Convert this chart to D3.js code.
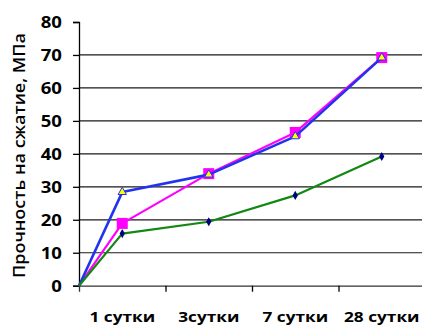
<!DOCTYPE html>
<html>
<head>
<meta charset="utf-8">
<script src="https://cdn.jsdelivr.net/npm/d3@7"></script>
<style>
  html, body { margin: 0; padding: 0; background: #fff; }
  svg { display: block; }
  text { font-family: "Open Sans", "DejaVu Sans", sans-serif; fill: #000; }
</style>
</head>
<body>
<svg id="chart" width="422" height="326"></svg>
<script>
// Curing age categories (the first point of every series is the origin)
const ages = ["1 сутки", "3сутки", "7 сутки", "28 сутки"];
// Compressive strength, MPa: value at origin followed by one value per age
const strengthBlue    = [0, 28.4, 33.7, 45.3, 69.2];
const strengthMagenta = [0, 18.9, 34.0, 46.5, 69.2];
const strengthGreen   = [0, 15.8, 19.4, 27.4, 39.2];
const yTicks = [0, 10, 20, 30, 40, 50, 60, 70, 80];
const yTitle = "Прочность на сжатие, МПа";

const svg = d3.select("#chart");
const plotLeft = 79, plotRight = 425, plotTop = 22, plotBottom = 285.7;

// x: 0 is the value axis, category k is centred at k + 0.5
const x = d3.scaleLinear().domain([0, ages.length]).range([plotLeft, plotRight]);
const y = d3.scaleLinear().domain([0, 80]).range([plotBottom, plotTop]);
const xPos = i => i === 0 ? x(0) : x(i - 0.5);

// horizontal gridlines
svg.append("g")
  .selectAll("line")
  .data(yTicks.filter(t => t > 0 && t < 80))
  .join("line")
  .attr("x1", plotLeft).attr("x2", plotRight)
  .attr("y1", d => y(d)).attr("y2", d => y(d))
  .attr("stroke", "#1a1a1a").attr("stroke-width", 1.2);

// value axis
const yAxis = svg.append("g").attr("transform", `translate(${plotLeft},0)`)
  .call(d3.axisLeft(y).tickValues(yTicks).tickSize(6).tickFormat(() => ""));
yAxis.select(".domain").attr("stroke", "#000").attr("stroke-width", 1.3);
yAxis.selectAll(".tick line").attr("stroke", "#000").attr("stroke-width", 1.3);

svg.append("g")
  .selectAll("text")
  .data(yTicks)
  .join("text")
  .attr("transform", d => `translate(62,${y(d) + 5.8}) scale(1.2,1)`)
  .attr("text-anchor", "end")
  .attr("font-size", 15.5)
  .attr("font-weight", 700)
  .text(d => d);

// category axis
const xAxis = svg.append("g").attr("transform", `translate(0,${plotBottom})`)
  .call(d3.axisBottom(x).tickValues(d3.range(1, ages.length + 1)).tickSize(6).tickFormat(() => ""));
xAxis.select(".domain").attr("stroke", "#333").attr("stroke-width", 1.3);
xAxis.selectAll(".tick line").attr("stroke", "#000").attr("stroke-width", 1.3);

svg.append("g")
  .selectAll("text")
  .data(ages)
  .join("text")
  .attr("transform", (d, i) => `translate(${xPos(i + 1)},322) scale(1.15,1)`)
  .attr("text-anchor", "middle")
  .attr("font-size", 15)
  .attr("font-weight", 700)
  .text(d => d);

// axis title
svg.append("text")
  .attr("transform", `translate(24.5,155.5) rotate(-90)`)
  .attr("text-anchor", "middle")
  .attr("font-size", 16.5)
  .attr("font-weight", 600)
  .attr("textLength", 245)
  .attr("lengthAdjust", "spacingAndGlyphs")
  .text(yTitle);

const line = d3.line().x((d, i) => xPos(i)).y(d => y(d));

// magenta series with square markers
svg.append("path").datum(strengthMagenta)
  .attr("d", line).attr("fill", "none")
  .attr("stroke", "#ff00ff").attr("stroke-width", 2.2).attr("stroke-linejoin", "round");
svg.append("g").selectAll("rect")
  .data(strengthMagenta.slice(1))
  .join("rect")
  .attr("x", (d, i) => xPos(i + 1) - 5.5).attr("y", d => y(d) - 5.5)
  .attr("width", 11).attr("height", 11)
  .attr("fill", "#ff00ff");

// blue series with yellow triangles
svg.append("path").datum(strengthBlue)
  .attr("d", line).attr("fill", "none")
  .attr("stroke", "#2233ee").attr("stroke-width", 2.6).attr("stroke-linejoin", "round");
svg.append("g").selectAll("path")
  .data(strengthBlue.slice(1))
  .join("path")
  .attr("transform", (d, i) => `translate(${xPos(i + 1)},${y(d)})`)
  .attr("d", d3.symbol(d3.symbolTriangle, 30))
  .attr("fill", "#ffff00").attr("stroke", "#2233ee").attr("stroke-width", 1);

// green series with navy dot markers
svg.append("path").datum(strengthGreen)
  .attr("d", line).attr("fill", "none")
  .attr("stroke", "#118811").attr("stroke-width", 2.2).attr("stroke-linejoin", "round");
svg.append("g").selectAll("path")
  .data(strengthGreen.slice(1))
  .join("path")
  .attr("transform", (d, i) => `translate(${xPos(i + 1)},${y(d)})`)
  .attr("d", d3.symbol(d3.symbolDiamond, 24))
  .attr("fill", "#000080");
</script>
</body>
</html>
